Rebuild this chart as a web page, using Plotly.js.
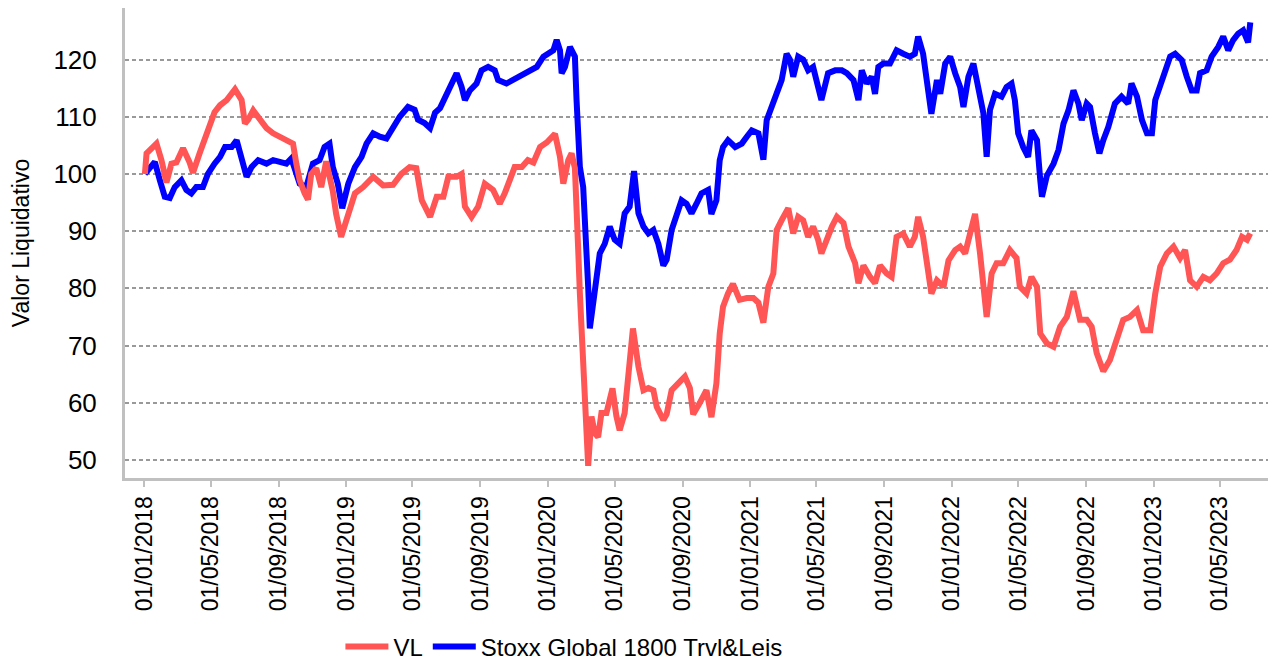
<!DOCTYPE html>
<html>
<head>
<meta charset="utf-8">
<script src="https://cdn.plot.ly/plotly-3.0.1.min.js"></script>
<style>html,body{margin:0;padding:0;background:#fff;}#chart{width:1275px;height:660px;}</style>
</head>
<body>
<div id="chart"></div>
<script>
// VL series
const vlDates = ["2018-01-02","2018-01-05","2018-01-23","2018-02-01","2018-02-10","2018-02-19","2018-02-28","2018-03-12","2018-03-24","2018-03-30","2018-04-11","2018-04-20","2018-04-29","2018-05-08","2018-05-18","2018-05-30","2018-06-14","2018-06-26","2018-07-02","2018-07-08","2018-07-17","2018-07-29","2018-08-10","2018-08-22","2018-09-03","2018-09-15","2018-09-27","2018-10-03","2018-10-09","2018-10-18","2018-10-24","2018-10-30","2018-11-08","2018-11-17","2018-11-26","2018-12-08","2018-12-14","2018-12-23","2019-01-05","2019-01-17","2019-02-01","2019-02-19","2019-03-09","2019-03-27","2019-04-11","2019-04-26","2019-05-08","2019-05-18","2019-06-02","2019-06-14","2019-06-26","2019-07-05","2019-07-20","2019-07-29","2019-08-04","2019-08-16","2019-08-28","2019-09-09","2019-09-24","2019-10-06","2019-10-15","2019-11-02","2019-11-15","2019-11-26","2019-12-06","2019-12-18","2019-12-30","2020-01-14","2020-01-23","2020-01-29","2020-02-07","2020-02-13","2020-02-19","2020-02-22","2020-02-25","2020-02-28","2020-03-02","2020-03-08","2020-03-14","2020-03-20","2020-03-26","2020-04-01","2020-04-07","2020-04-16","2020-04-27","2020-05-04","2020-05-10","2020-05-19","2020-05-25","2020-06-03","2020-06-13","2020-06-22","2020-07-01","2020-07-10","2020-07-16","2020-07-28","2020-08-03","2020-08-12","2020-08-24","2020-09-05","2020-09-14","2020-09-20","2020-10-02","2020-10-14","2020-10-23","2020-11-01","2020-11-07","2020-11-13","2020-11-22","2020-12-01","2020-12-13","2020-12-26","2021-01-07","2021-01-16","2021-01-25","2021-02-03","2021-02-12","2021-02-18","2021-02-27","2021-03-11","2021-03-20","2021-03-29","2021-04-07","2021-04-16","2021-04-25","2021-05-04","2021-05-10","2021-05-19","2021-05-29","2021-06-07","2021-06-19","2021-06-28","2021-07-10","2021-07-16","2021-07-25","2021-08-06","2021-08-15","2021-08-24","2021-09-05","2021-09-14","2021-09-23","2021-10-05","2021-10-17","2021-10-26","2021-11-01","2021-11-10","2021-11-19","2021-11-25","2021-12-05","2021-12-17","2021-12-26","2022-01-07","2022-01-16","2022-01-25","2022-02-03","2022-02-12","2022-02-21","2022-02-27","2022-03-05","2022-03-14","2022-03-23","2022-04-04","2022-04-16","2022-04-28","2022-05-04","2022-05-16","2022-05-25","2022-06-04","2022-06-10","2022-06-22","2022-07-04","2022-07-16","2022-07-28","2022-08-09","2022-08-21","2022-09-02","2022-09-11","2022-09-20","2022-10-02","2022-10-14","2022-10-26","2022-11-07","2022-11-19","2022-12-02","2022-12-13","2022-12-26","2023-01-04","2023-01-13","2023-01-25","2023-02-06","2023-02-18","2023-02-27","2023-03-08","2023-03-20","2023-04-01","2023-04-13","2023-04-25","2023-05-07","2023-05-19","2023-05-31","2023-06-10","2023-06-19","2023-06-25"];
const vlValues = [100,103.6,105.3,102.4,98.5,101.8,102,104.5,102,100.2,103.6,105.9,108.8,110.8,112,112.9,114.8,112.9,108.8,109.5,111.1,109.5,108,107.1,106.5,105.9,105.3,101.8,98.9,96.6,95.5,100,101,97.7,102.2,97,93,89,93.1,96.6,97.7,99.5,98,98.1,100,101.2,101,95.4,92.5,96,96,99.5,99.5,100,94.3,92.5,94.3,98.3,97.2,94.8,96.6,101.2,101.2,102.4,102,104.7,105.5,107,103,98.3,102.4,103.6,101,95.4,86.7,79.1,72.2,63.4,49,57.6,54.7,54,58.2,58.2,62.5,57.7,55.2,58.2,65.1,73,66.3,62.2,62.6,62.2,59.3,57,58,62.2,63.4,64.6,62.6,58,60,62.2,57.5,63.4,72.1,76.8,79.1,80.8,78,78.3,78.3,77.5,74,80.3,82.6,90.2,91.9,94,89.6,92.5,91.9,89,90.8,88.5,86.1,88.5,90.8,92.5,91.4,87.3,84.4,80.9,84,82,80.9,84,82.6,82,89,89.6,87.3,89,92.5,89,82.6,79.1,81.4,80.3,84.9,86.7,87.3,86.1,89.6,93,86.1,80.3,75,82.6,84.4,84.4,86.7,85.3,80.3,79.1,82,80.3,72.1,70.4,69.8,73.3,75,79.5,74.5,74.5,73.3,68.7,65.5,67.5,71,74.5,75,76.2,72.7,72.7,79.1,83.8,86.1,87.3,85.3,86.7,81.4,80.3,82,81.4,82.6,84.4,85,86.7,89,88.5,89.6];

// Stoxx Global 1800 Trvl&Leis series
const idxDates = ["2018-01-02","2018-01-11","2018-01-20","2018-01-29","2018-02-07","2018-02-16","2018-02-25","2018-03-09","2018-03-18","2018-03-27","2018-04-05","2018-04-17","2018-04-26","2018-05-08","2018-05-18","2018-05-27","2018-06-08","2018-06-17","2018-06-26","2018-07-05","2018-07-14","2018-07-26","2018-08-10","2018-08-22","2018-09-03","2018-09-15","2018-09-24","2018-09-30","2018-10-09","2018-10-21","2018-11-02","2018-11-14","2018-11-23","2018-12-02","2018-12-08","2018-12-17","2018-12-25","2019-01-05","2019-01-17","2019-01-29","2019-02-07","2019-02-19","2019-03-03","2019-03-15","2019-03-27","2019-04-08","2019-04-23","2019-05-05","2019-05-11","2019-05-23","2019-06-02","2019-06-11","2019-06-20","2019-06-29","2019-07-08","2019-07-20","2019-07-29","2019-08-04","2019-08-13","2019-08-25","2019-09-03","2019-09-15","2019-09-27","2019-10-03","2019-10-18","2019-10-30","2019-11-11","2019-11-23","2019-12-03","2019-12-12","2019-12-24","2020-01-02","2020-01-11","2020-01-17","2020-01-23","2020-01-26","2020-02-01","2020-02-10","2020-02-19","2020-02-22","2020-02-25","2020-02-28","2020-03-05","2020-03-10","2020-03-14","2020-03-17","2020-03-23","2020-03-30","2020-04-04","2020-04-13","2020-04-22","2020-05-01","2020-05-10","2020-05-19","2020-05-28","2020-06-05","2020-06-13","2020-06-22","2020-07-01","2020-07-10","2020-07-19","2020-07-28","2020-08-03","2020-08-12","2020-08-21","2020-08-30","2020-09-08","2020-09-17","2020-09-26","2020-10-05","2020-10-17","2020-10-23","2020-11-01","2020-11-07","2020-11-13","2020-11-22","2020-12-05","2020-12-17","2020-12-26","2021-01-04","2021-01-16","2021-01-25","2021-01-31","2021-02-09","2021-02-18","2021-02-27","2021-03-08","2021-03-14","2021-03-20","2021-03-29","2021-04-07","2021-04-16","2021-04-25","2021-05-04","2021-05-10","2021-05-22","2021-06-04","2021-06-16","2021-06-25","2021-07-07","2021-07-16","2021-07-22","2021-07-31","2021-08-09","2021-08-15","2021-08-21","2021-08-30","2021-09-11","2021-09-23","2021-10-05","2021-10-17","2021-10-26","2021-11-01","2021-11-10","2021-11-16","2021-11-25","2021-12-05","2021-12-11","2021-12-20","2021-12-29","2022-01-07","2022-01-16","2022-01-22","2022-01-31","2022-02-09","2022-02-18","2022-02-27","2022-03-05","2022-03-11","2022-03-20","2022-04-01","2022-04-10","2022-04-19","2022-04-25","2022-05-01","2022-05-10","2022-05-19","2022-05-25","2022-06-04","2022-06-10","2022-06-13","2022-06-22","2022-07-04","2022-07-13","2022-07-22","2022-07-31","2022-08-09","2022-08-18","2022-08-24","2022-09-02","2022-09-08","2022-09-17","2022-09-25","2022-10-02","2022-10-11","2022-10-23","2022-11-04","2022-11-16","2022-11-22","2022-12-02","2022-12-11","2022-12-20","2022-12-29","2023-01-04","2023-01-13","2023-01-22","2023-01-31","2023-02-09","2023-02-21","2023-03-02","2023-03-11","2023-03-20","2023-03-26","2023-04-07","2023-04-16","2023-04-28","2023-05-07","2023-05-16","2023-05-25","2023-06-03","2023-06-12","2023-06-21","2023-06-25"];
const idxValues = [100,101.2,102.1,98.9,96,95.8,97.7,98.9,97.2,96.6,97.7,97.7,100,101.8,103,104.7,104.7,105.9,103,99.5,101.2,102.4,101.8,102.4,102.1,101.8,102.7,100.7,98.3,97.7,101.8,102.4,104.7,105.3,101.2,98.3,94,98.3,101.2,103,105.3,107.1,106.5,106.2,108.2,110,111.7,111.2,109.5,108.9,108,110.7,111.5,113.5,115.2,117.6,115.2,112.9,114.6,115.8,118.1,118.7,118.1,116.4,115.8,116.4,117,117.6,118.1,118.7,120.5,121,121.6,123.4,121.6,117.6,118.7,122.2,120.5,112.9,107.1,101.2,97.7,89.6,80.3,73,77.4,82,86.1,87.8,90.8,88.5,87.8,93.1,94.3,100.5,93.1,90.8,89.6,90.2,87.8,84,85,90.2,93.1,95.4,94.8,93.1,94.8,96.6,97.2,93,95.4,102.4,104.7,105.9,104.7,105.3,106.5,107.6,107.1,102.5,109.4,111.7,114.6,116.4,121,120,117,120.5,120,118.1,118.7,115.2,112.9,117.6,118.1,118.1,117.6,116.4,112.9,118.1,115.8,117,114,118.7,119.3,119.3,121.6,121,120.5,121,124,121,117,110.5,116.4,114,119.3,120.5,117.6,115.2,111.7,117,119.3,115.2,110.6,103,111.2,114,113.5,115.2,115.8,112.9,107.1,104.7,103,107.6,105.9,98.9,96,99.7,101.8,104.2,108.8,111.1,114.6,112.3,109.4,112.3,111.7,107.1,103.6,105.9,108.2,112.3,113.5,112.3,115.8,113.5,109.4,107.1,107.1,112.9,115.2,118.1,120.5,121,119.9,117,114.6,114.6,117.6,118.1,120.5,122.2,124,121.6,123.4,124.5,125.1,123,126.5];

const seriesNames = ["VL", "Stoxx Global 1800 Trvl&Leis"];
const yTicks = [50, 60, 70, 80, 90, 100, 110, 120];

const FONT = "Liberation Sans, Arial, sans-serif";

const traces = [
  {x: idxDates, y: idxValues, name: seriesNames[1], type: "scatter", mode: "lines",
   line: {color: "#0000ff", width: 6}},
  {x: vlDates, y: vlValues, name: seriesNames[0], type: "scatter", mode: "lines",
   line: {color: "#ff5555", width: 6}}
];

const layout = {
  width: 1275, height: 660,
  margin: {l: 125, r: 7, t: 8, b: 182},
  paper_bgcolor: "#ffffff", plot_bgcolor: "#ffffff",
  font: {family: FONT, size: 22, color: "#000"},
  showlegend: true,
  legend: {orientation: "h", traceorder: "reversed", xref: "container", yref: "container",
           x: 0.267, xanchor: "left", y: 0.02, yanchor: "middle",
           font: {family: FONT, size: 24, color: "#000"}, itemwidth: 43, bgcolor: "rgba(0,0,0,0)"},
  xaxis: {
    type: "date", range: ["2017-11-27", "2023-07-27"],
    tickmode: "linear", tick0: "2018-01-01", dtick: "M4", tickformat: "%d/%m/%Y",
    tickangle: -90, ticks: "outside", ticklen: 6, tickwidth: 2, tickcolor: "#c0c0c0",
    showgrid: false, zeroline: false, showline: true, linecolor: "#c0c0c0", linewidth: 3,
    tickfont: {family: FONT, size: 23, color: "#000"}, automargin: false
  },
  yaxis: {
    range: [46.86, 129], tickmode: "array", tickvals: yTicks,
    ticks: "outside", ticklen: 20, tickwidth: 2, tickcolor: "rgba(255,255,255,0)",
    showgrid: true, gridcolor: "#999999", gridwidth: 2, griddash: "4px,3px",
    zeroline: false, showline: true, linecolor: "#c0c0c0", linewidth: 3,
    tickfont: {family: FONT, size: 26, color: "#000"}, automargin: false,
    title: {text: "Valor Liquidativo", font: {family: FONT, size: 23, color: "#000"}, standoff: 18}
  }
};

Plotly.newPlot("chart", traces, layout, {displayModeBar: false, staticPlot: true});
</script>
</body>
</html>
